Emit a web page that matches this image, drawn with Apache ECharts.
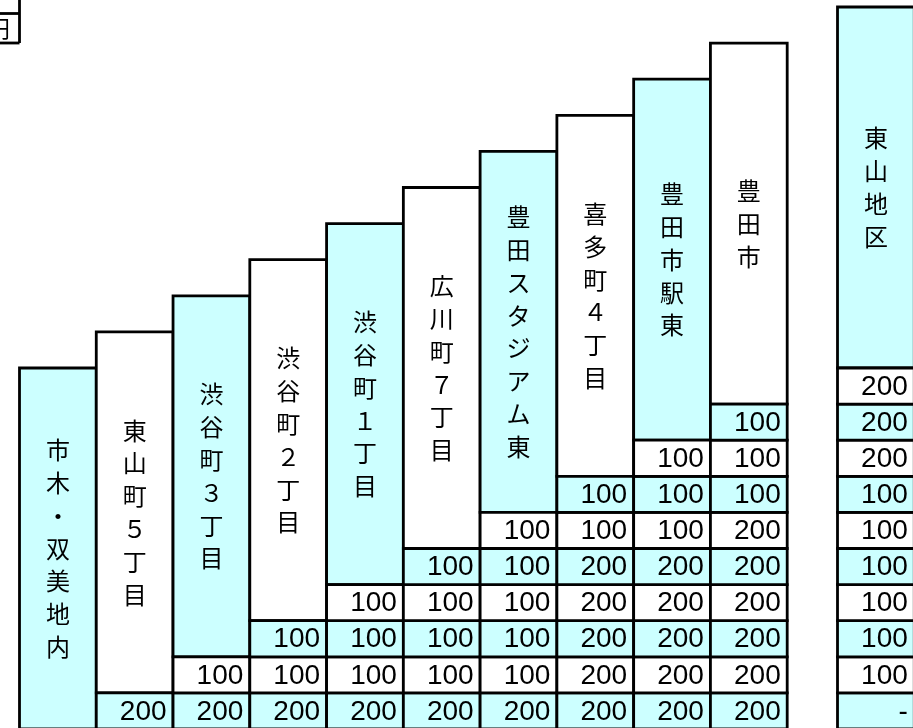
<!DOCTYPE html>
<html>
<head>
<meta charset="utf-8">
<script src="https://cdn.jsdelivr.net/npm/echarts@6/dist/echarts.min.js"></script>
<style>
html,body{margin:0;padding:0;background:#fff;}
#chart{width:913px;height:728px;}
</style>
</head>
<body>
<div id="chart"></div>
<script>
// ---- data ----
const stations = ['市木・双美地内','東山町５丁目','渋谷町３丁目','渋谷町２丁目','渋谷町１丁目','広川町７丁目','豊田スタジアム東','喜多町４丁目','豊田市駅東','豊田市'];
// fares per station column, listed from the bottom row upward
const faresIchigi        = [];
const faresHigashiyama5  = [200];
const faresShibuya3      = [200,100];
const faresShibuya2      = [200,100,100];
const faresShibuya1      = [200,100,100,100];
const faresHirokawa7     = [200,100,100,100,100];
const faresStadium       = [200,100,100,100,100,100];
const faresKitamachi4    = [200,200,200,200,200,100,100];
const faresStationEast   = [200,200,200,200,200,100,100,100];
const faresToyotashi     = [200,200,200,200,200,200,100,100,100];
const districtLabel = '東山地区';
const districtFares = ['-',100,100,100,100,100,100,200,200,200];
const unitLabel = '円';

// ---- layout (styles / scale) ----
const CYAN = '#CCFFFF';
const LW = 2.8;
const colW = 76.77, x0px = 19.5, rowH = 36.1, y0px = 729;
const W = 913, H = 728;
const districtX = (837.5 - x0px) / colW;

const fareColumns = [faresIchigi,faresHigashiyama5,faresShibuya3,faresShibuya2,faresShibuya1,faresHirokawa7,faresStadium,faresKitamachi4,faresStationEast,faresToyotashi];

// cell table: [xLeft, xRight, yBottom, yTop, kind, text, cyan]
const cells = [];
stations.forEach((name, c) => {
  cells.push([c, c + 1, c, c + 10, 'head', name, c % 2 === 0 ? 1 : 0]);
  fareColumns[c].forEach((v, r) => {
    cells.push([c, c + 1, r, r + 1, 'fare', String(v), r % 2 === 0 ? 1 : 0]);
  });
});
cells.push([districtX, districtX + 1, 10, 20, 'head', districtLabel, 1]);
districtFares.forEach((v, r) => {
  cells.push([districtX, districtX + 1, r, r + 1, 'fare', String(v), r % 2 === 0 ? 1 : 0]);
});

const chart = echarts.init(document.getElementById('chart'));
chart.setOption({
  backgroundColor: '#fff',
  animation: false,
  grid: {left: 0, right: 0, top: 0, bottom: 0},
  xAxis: {type: 'value', min: -x0px / colW, max: (W - x0px) / colW, show: false},
  yAxis: {type: 'value', min: (y0px - H) / rowH, max: y0px / rowH, show: false},
  graphic: [
    {type: 'line', shape: {x1: 19.5, y1: -2, x2: 19.5, y2: 43}, style: {stroke: '#000', lineWidth: LW}},
    {type: 'line', shape: {x1: -2, y1: 13.5, x2: 19.5, y2: 13.5}, style: {stroke: '#000', lineWidth: LW}},
    {type: 'line', shape: {x1: -2, y1: 43, x2: 19.5, y2: 43}, style: {stroke: '#000', lineWidth: LW}},
    {type: 'text', style: {text: unitLabel, x: 10, y: 28, align: 'right', verticalAlign: 'middle', fontSize: 23, fontFamily: '"Noto Sans CJK JP"', fill: '#000'}}
  ],
  series: [{
    type: 'custom',
    clip: false,
    data: cells,
    encode: {x: [0, 1], y: [2, 3]},
    renderItem: function (params, api) {
      const xl = api.value(0), xr = api.value(1), yb = api.value(2), yt = api.value(3);
      const d = cells[params.dataIndex];
      const kind = d[4], txt = d[5], cy = d[6];
      const pTL = api.coord([xl, yt]);
      const pBR = api.coord([xr, yb]);
      const rect = {
        type: 'rect',
        shape: {x: pTL[0], y: pTL[1], width: pBR[0] - pTL[0], height: pBR[1] - pTL[1]},
        style: {fill: cy ? CYAN : '#fff', stroke: '#000', lineWidth: LW}
      };
      let text;
      if (kind === 'fare') {
        text = {
          type: 'text',
          style: {
            text: txt, x: pBR[0] - 6.5, y: (pTL[1] + pBR[1]) / 2 + 1,
            align: 'right', verticalAlign: 'middle',
            fontSize: 28, fontFamily: '"Liberation Sans", Arial, sans-serif', fill: '#000'
          }
        };
      } else {
        text = {
          type: 'text',
          style: {
            text: txt.split('').join('\n'), x: (pTL[0] + pBR[0]) / 2, y: (pTL[1] + pBR[1]) / 2,
            align: 'center', verticalAlign: 'middle', lineHeight: 32.8,
            fontSize: 24, fontFamily: '"Noto Sans CJK JP", sans-serif', fill: '#000'
          }
        };
      }
      return {type: 'group', children: [rect, text]};
    }
  }]
});
</script>
</body>
</html>
